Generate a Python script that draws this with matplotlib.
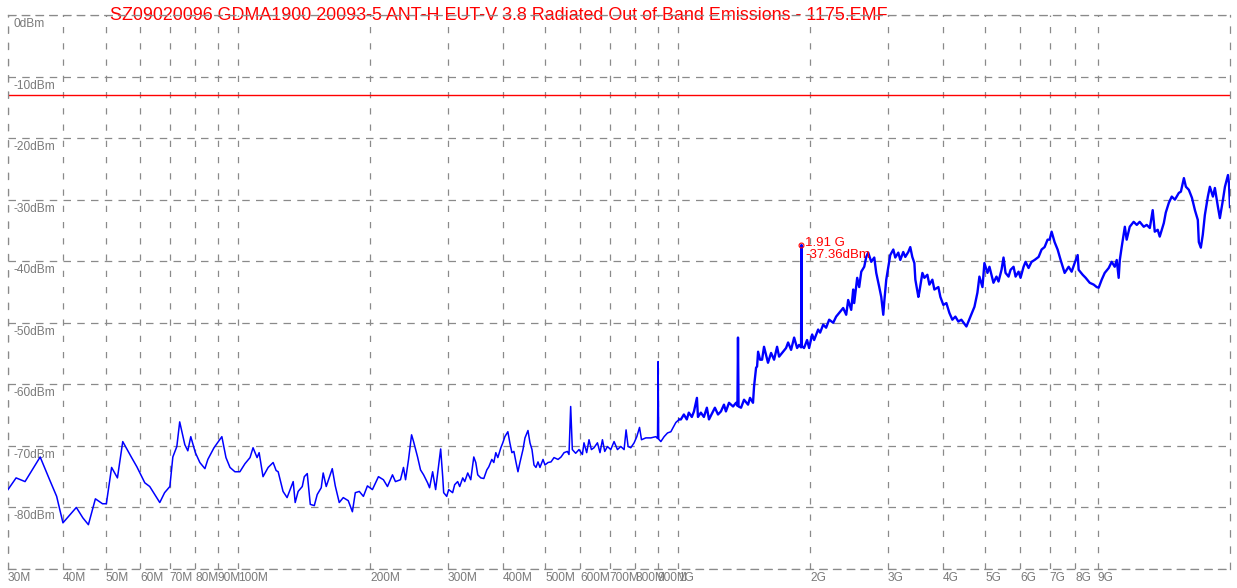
import numpy as np
import matplotlib.pyplot as plt

plt.rcParams['font.family'] = ['Liberation Sans', 'DejaVu Sans']

title = "SZ09020096 GDMA1900 20093-5 ANT-H EUT-V 3.8 Radiated Out of Band Emissions - 1175.EMF"

# trace, frequency in MHz / level in dBm, split by band
low_f = [30, 31.3, 32.8, 35.5, 37.3, 38.7, 40.0, 42.9, 44.4, 45.7, 47.4, 49.2, 50.2, 51.6, 53.2, 54.7,
         57.3, 58.9, 61.4, 63.0, 66.4, 68.1, 70.0, 71.1, 72.6, 73.7, 75.7, 76.9, 78.1, 80.0, 81.9, 84.1,
         85.4, 88.2, 91.9, 93.9, 95.9, 98.4, 101.0, 103.7, 106.5, 108.2, 110.5, 111.7, 114.0, 117.1,
         120.2, 122.1, 123.4, 126.6, 129.3, 131.4, 133.5, 134.9, 137.0, 140.0, 141.5, 143.7, 146.0,
         149.1, 151.4, 154.6, 156.2, 158.7, 163.8, 166.4, 169.9, 173.5, 178.1, 182.0, 184.8, 188.7,
         192.8, 196.9, 202.1, 208.6, 214.1, 218.7, 224.5, 228.0, 234.1, 237.8, 240.4, 244.2, 248.1,
         250.7, 256.0]
low_l = [-77.1, -75.2, -75.8, -71.8, -75.5, -78.2, -82.5, -80.0, -81.7, -82.8, -78.6, -79.4, -79.4,
         -73.5, -75.2, -69.3, -71.9, -73.4, -76.0, -76.6, -79.2, -77.6, -76.6, -71.8, -70.1, -66.1,
         -69.8, -70.8, -68.5, -71.1, -72.7, -73.7, -72.2, -70.3, -68.5, -71.9, -73.5, -74.2, -74.2,
         -72.9, -71.9, -70.3, -71.9, -71.1, -75.0, -73.5, -72.7, -74.0, -74.2, -77.4, -78.4, -77.1,
         -75.8, -79.2, -77.4, -76.6, -75.0, -74.5, -79.5, -79.7, -77.9, -76.8, -74.4, -76.6, -73.7,
         -76.5, -79.2, -78.4, -78.9, -80.7, -77.6, -77.4, -78.2, -76.5, -77.1, -75.0, -75.5, -76.6,
         -74.7, -75.8, -75.5, -73.5, -75.5, -72.2, -68.2, -69.3, -71.8]

mid_f = [260.0, 264.2, 269.8, 272.6, 277.0, 281.4, 284.4, 288.9, 292.0, 293.5, 298.2, 301.3, 307.6,
         310.9, 315.8, 319.2, 324.3, 327.7, 332.9, 338.2, 343.6, 347.2, 350.8, 356.4, 362.1, 367.9,
         371.7, 377.6, 381.6, 385.6, 389.7, 395.9, 400.0, 404.3, 410.7, 415.0, 419.5, 423.9, 428.4,
         433.0, 437.5, 444.5, 449.2, 456.3, 461.1, 466.0, 470.9, 475.8, 480.9, 485.9, 493.7, 498.8,
         506.8, 514.8, 523.0, 534.1, 542.6, 551.2, 560.8, 565.6, 570.6, 575.6, 585.7, 596.0, 606.7,
         611.8, 620.5, 628.1, 636.0, 644.7, 656.4, 665.3, 673.8, 682.0, 691.7, 703.8, 716.1, 728.9,
         741.8, 754.7, 762.6, 770.7, 781.6, 795.4, 806.6, 818.2, 826.7, 845.6, 868.0, 891.1, 899.0,
         901.8, 904.5, 914.8, 930.6, 947.3, 964.0, 989.5, 1007]
mid_l = [-73.9, -74.7, -76.0, -76.8, -74.2, -77.1, -74.4, -70.5, -75.0, -77.6, -78.2, -77.1, -77.6,
         -76.3, -75.8, -76.6, -75.2, -75.8, -74.4, -75.5, -71.8, -72.7, -74.7, -75.2, -75.3, -73.9,
         -73.4, -72.2, -72.7, -71.1, -71.9, -70.3, -69.5, -68.5, -67.7, -69.5, -71.1, -70.9, -72.6,
         -74.2, -72.7, -70.6, -68.7, -67.5, -69.5, -70.6, -73.1, -73.5, -72.6, -73.5, -72.2, -73.1,
         -72.7, -72.6, -71.9, -72.2, -71.8, -71.1, -70.9, -71.4, -63.6, -70.6, -71.2, -70.6, -71.4,
         -69.5, -71.1, -69.0, -70.6, -70.3, -69.5, -71.1, -69.0, -70.9, -70.1, -70.6, -69.3, -70.6,
         -70.1, -70.6, -67.4, -70.1, -70.3, -69.5, -68.5, -67.0, -69.0, -68.7, -68.7, -68.5, -68.8,
         -56.3, -68.9, -69.3, -68.5, -67.9, -67.7, -66.2, -65.7]

hi1_f = [1007, 1016, 1032, 1048, 1059, 1076, 1088, 1105, 1111, 1128, 1146, 1164, 1177, 1202, 1214, 1234,
         1253, 1273, 1286, 1307, 1335, 1356, 1366, 1370, 1374, 1392, 1414, 1444, 1459, 1482, 1490,
         1506, 1514, 1522, 1538, 1554, 1570, 1603, 1629, 1655, 1681, 1699, 1735, 1762, 1781, 1809,
         1838, 1867, 1886, 1906, 1910, 1914, 1936, 1967, 1988, 2020, 2041, 2084, 2106, 2140, 2173,
         2208, 2255, 2290, 2327, 2376, 2414, 2439, 2478, 2504, 2517, 2557, 2584, 2612, 2653, 2681,
         2709, 2752, 2796, 2825, 2870, 2900, 2931, 2946, 2977, 3009, 3040, 3089, 3121, 3171, 3204,
         3254, 3289, 3341, 3376, 3412, 3449, 3467, 3522, 3540, 3597, 3635, 3692, 3731, 3790, 3830,
         3911, 3952, 4014, 4078, 4143, 4208, 4275, 4342]
hi1_l = [-65.7, -65.7, -64.9, -65.7, -64.6, -65.3, -64.4, -62.2, -65.3, -64.6, -65.3, -63.8, -65.7, -64.4,
         -63.8, -64.9, -64.4, -63.3, -64.4, -63.0, -63.6, -63.0, -63.5, -52.4, -63.6, -63.8, -62.5,
         -63.3, -62.2, -63.0, -60.4, -57.3, -57.1, -54.7, -56.0, -56.0, -53.9, -56.5, -54.9, -56.0,
         -53.9, -55.5, -54.7, -54.1, -53.2, -54.4, -52.4, -54.1, -53.6, -54.0, -37.36, -53.8, -54.1,
         -52.8, -54.1, -51.9, -52.8, -51.1, -51.6, -50.3, -50.8, -49.5, -50.0, -49.0, -48.4, -47.6,
         -48.7, -46.3, -47.9, -44.6, -46.8, -42.7, -44.2, -41.7, -40.9, -39.3, -38.6, -40.1, -39.4,
         -41.9, -44.2, -45.8, -48.7, -46.6, -43.0, -40.9, -39.0, -38.1, -39.4, -38.6, -39.8, -38.5,
         -39.3, -38.5, -37.7, -39.3, -40.3, -43.0, -45.8, -45.0, -41.9, -42.7, -42.2, -43.8, -43.0,
         -44.6, -44.2, -45.8, -47.1, -46.8, -48.4, -49.5, -49.0, -49.8]

hi2_f = [4411, 4529, 4625, 4724, 4798, 4848, 4926, 4977, 5057, 5110, 5218, 5301, 5358, 5443, 5500,
         5559, 5647, 5707, 5797, 5859, 5951, 6013, 6109, 6173, 6271, 6370, 6471, 6609, 6714, 6820,
         6927, 7001, 7075, 7187, 7301, 7417, 7574, 7735, 7857, 7982, 8109, 8151, 8324, 8456, 8636,
         8818, 8959, 9052, 9196, 9342, 9540, 9690, 9845, 9948, 10050, 10110, 10210, 10380, 10480,
         10650, 10870, 11050, 11220, 11460, 11640, 11830, 12010, 12140, 12330, 12460, 12730, 12860,
         13070, 13270, 13490, 13770, 13920, 14140, 14290, 14510, 14750, 14980, 15210, 15290, 15450,
         15610, 15780, 16030, 16200, 16460, 16630, 16900, 17070, 17350, 17530, 17810, 17900, 18000]
hi2_l = [-49.5, -50.6, -49.0, -47.4, -45.1, -42.5, -44.2, -40.3, -41.9, -40.9, -43.5, -42.5, -43.3,
         -41.4, -39.4, -41.9, -42.5, -41.4, -40.9, -42.5, -41.7, -42.7, -40.9, -40.1, -41.1, -40.1,
         -39.8, -39.3, -38.1, -37.7, -36.5, -36.5, -35.2, -36.9, -38.1, -39.8, -41.9, -40.9, -41.7,
         -40.3, -39.0, -41.4, -42.2, -42.7, -43.5, -43.8, -44.2, -44.3, -43.0, -41.9, -41.1, -40.1,
         -40.9, -39.8, -42.7, -39.8, -37.7, -34.4, -36.5, -34.4, -33.6, -34.1, -33.6, -34.4, -34.1,
         -34.6, -31.7, -35.2, -34.9, -36.0, -33.8, -32.1, -30.5, -29.5, -30.0, -28.9, -28.7, -26.5,
         -27.9, -28.4, -29.7, -31.7, -33.3, -36.9, -37.8, -35.7, -32.5, -29.5, -27.9, -29.5, -28.1,
         -31.2, -33.0, -30.0, -27.9, -26.0, -27.3, -31.2]

limit_dbm = -13
marker_f = 1910
marker_l = -37.36

xticks = [30, 40, 50, 60, 70, 80, 90, 100, 200, 300, 400, 500, 600, 700, 800, 900,
          1000, 2000, 3000, 4000, 5000, 6000, 7000, 8000, 9000]
xlabels = ['30M', '40M', '50M', '60M', '70M', '80M', '90M', '100M', '200M', '300M', '400M',
           '500M', '600M', '700M', '800M', '900M', '1G', '2G', '3G', '4G', '5G', '6G', '7G',
           '8G', '9G']
ylevels = [0, -10, -20, -30, -40, -50, -60, -70, -80]

lo_freq = np.concatenate([low_f, mid_f])
lo_level = np.concatenate([low_l, mid_l])
hi_freq = np.concatenate([hi1_f, hi2_f])
hi_level = np.concatenate([hi1_l, hi2_l])

W, H = 1237, 588
fig = plt.figure(figsize=(W / 100, H / 100), dpi=100)
ax = fig.add_axes([8 / W, 1 - 569 / H, 1222 / W, 554 / H])
ax.patch.set_visible(False)

gcol = '#8a8a8a'
tcol = '#7a7a7a'
ax.set_xscale('log')
ax.set_xlim(30, 18000)
ax.set_ylim(-90, 0)

ax.set_xticks(xticks)
ax.set_xticklabels(xlabels)
ax.xaxis.set_minor_locator(plt.NullLocator())
ax.set_yticks(list(range(-90, 1, 10)))
ax.set_yticklabels([])
ax.tick_params(length=0, labelsize=8.6, labelcolor=tcol, pad=2)
for lbl in ax.get_xticklabels():
    lbl.set_ha('left')

ax.xaxis.grid(True, color=gcol, linestyle=(0, (5, 8)), linewidth=0.9)
ax.yaxis.grid(True, color=gcol, linestyle=(0, (6, 5)), linewidth=0.9)
for side in ['left', 'right']:
    ax.spines[side].set_linestyle((0, (5, 8)))
    ax.spines[side].set_color(gcol)
    ax.spines[side].set_linewidth(0.9)
for side in ['top', 'bottom']:
    ax.spines[side].set_linestyle((0, (6, 5)))
    ax.spines[side].set_color(gcol)
    ax.spines[side].set_linewidth(0.9)

for v in ylevels:
    ax.annotate(f'{v}dBm', xy=(0, v), xycoords=('axes fraction', 'data'),
                xytext=(6, -3), textcoords='offset pixels', va='top', ha='left',
                fontsize=8.6, color=tcol)

ax.axhline(limit_dbm, color='red', linewidth=1.0)
ax.plot(lo_freq, lo_level, color='#0000ff', linewidth=1.1, zorder=3)
ax.plot(hi_freq, hi_level, color='#0000ff', linewidth=1.7, zorder=3)

ax.plot(marker_f, marker_l, 'o', ms=3.5, mfc='none', mec='red', mew=0.8, zorder=4)
ax.annotate(f'{marker_f / 1000:.2f} G\n{marker_l:.2f}dBm', xy=(marker_f, marker_l),
            xytext=(4, 8), textcoords='offset pixels', va='top', ha='left',
            fontsize=9.5, color='red', linespacing=1.0, zorder=4)

ax.text(499 / W, 1 - 15.5 / H, title, transform=fig.transFigure, ha='center', va='center',
        fontsize=12.9, color='red', zorder=1, clip_on=False)

fig.savefig('out.png', dpi=100)
